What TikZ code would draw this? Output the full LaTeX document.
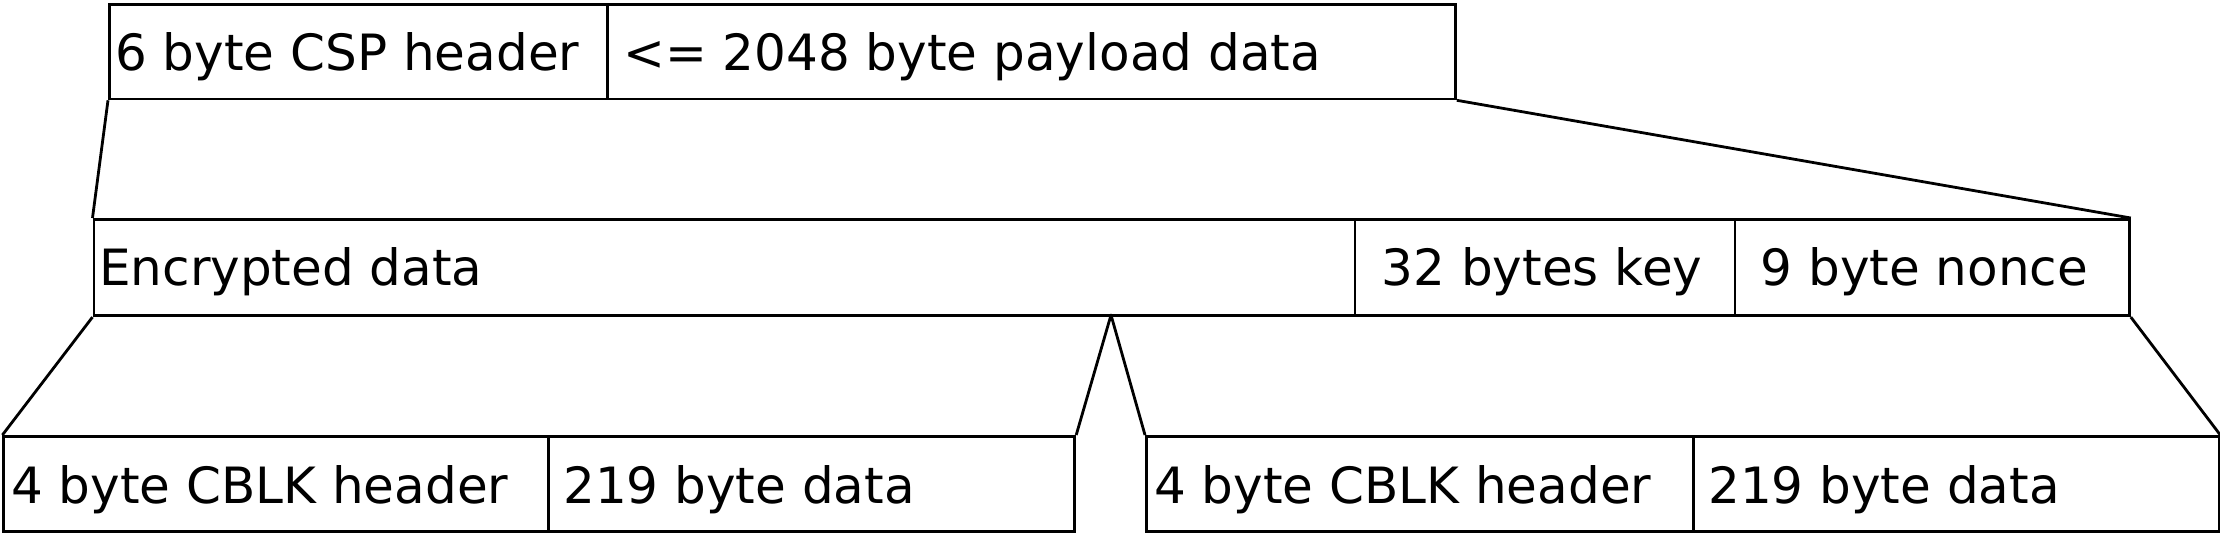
\documentclass[tikz,border=0pt]{standalone}
\usepackage{fontspec}
\setmainfont{DejaVu Sans}
\begin{document}
\begin{tikzpicture}[x=1pt,y=-1pt,
  cell/.style={draw=black, line width=2.8pt, inner sep=0pt, anchor=north west},
  lbl/.style={anchor=base west, inner sep=0pt, font=\fontsize{50pt}{60pt}\selectfont},
  link/.style={draw=black, line width=2.8pt, line join=round}]
\useasboundingbox (0,0) rectangle (2220,533);
% top row
\node[cell, minimum width=498pt, minimum height=94.8pt] (csp) at (108,2.7) {};
\node[cell, minimum width=848pt, minimum height=94.8pt] (pay) at (606,2.7) {};
% middle row
\node[cell, minimum width=1261pt, minimum height=96.3pt] (enc) at (92.5,218) {};
\node[cell, minimum width=380pt, minimum height=96.3pt] (key) at (1353.5,218) {};
\node[cell, minimum width=394.5pt, minimum height=96.3pt] (nonce) at (1733.5,218) {};
% bottom rows
\node[cell, minimum width=545pt, minimum height=95pt] (h1) at (2.4,435) {};
\node[cell, minimum width=526pt, minimum height=95pt] (d1) at (547.4,435) {};
\node[cell, minimum width=547pt, minimum height=95pt] (h2) at (1145,435) {};
\node[cell, minimum width=525.5pt, minimum height=95pt] (d2) at (1692,435) {};
% labels
\node[lbl] (tcsp) at (115,70) {6 byte CSP header};
\node[lbl] (tpay) at (623,70) {<= 2048 byte payload data};
\node[lbl] (tenc) at (99,285.5) {Encrypted data};
\node[lbl] (tkey) at (1381.5,285.5) {32 bytes key};
\node[lbl] (tnonce) at (1760.5,285.5) {9 byte nonce};
\node[lbl] (th1) at (11,503) {4 byte CBLK header};
\node[lbl] (td1) at (563,503) {219 byte data};
\node[lbl] (th2) at (1154,503) {4 byte CBLK header};
\node[lbl] (td2) at (1708,503) {219 byte data};
% connectors
\coordinate (apex) at (1111,315);
\draw[link] (csp.south west) -- (enc.north west);
\draw[link] (pay.south east) -- (nonce.north east);
\draw[link] (enc.south west) -- (h1.north west);
\draw[link] (d1.north east) -- (apex) -- (h2.north west);
\draw[link] (nonce.south east) -- (d2.north east);
\end{tikzpicture}
\end{document}
